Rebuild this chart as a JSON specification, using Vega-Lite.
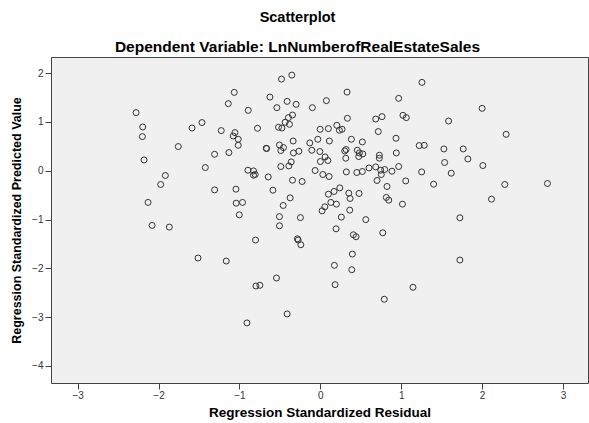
{
  "$schema": "https://vega.github.io/schema/vega-lite/v6.json",
  "width": 537,
  "height": 326,
  "autosize": "none",
  "padding": {"left": 51, "top": 57, "right": 1, "bottom": 40},
  "background": "white",
  "config": {
    "view": {"stroke": "#444444", "strokeWidth": 1, "fill": "#F0F0F0"},
    "font": "Liberation Sans"
  },
  "title": {
    "text": "Scatterplot",
    "subtitle": "Dependent Variable: LnNumberofRealEstateSales",
    "font": "Liberation Sans",
    "subtitleFont": "Liberation Sans",
    "fontSize": 14.5,
    "fontWeight": "bold",
    "subtitleFontSize": 15.5,
    "subtitleFontWeight": "bold",
    "color": "#000000",
    "subtitleColor": "#000000",
    "offset": 1,
    "subtitlePadding": 14,
    "dx": -22
  },
  "data": {
    "values": [
      {"residual": -1.064, "predicted": 1.605},
      {"residual": -1.138, "predicted": 1.374},
      {"residual": -2.278, "predicted": 1.190},
      {"residual": -2.196, "predicted": 0.896},
      {"residual": -2.200, "predicted": 0.699},
      {"residual": -1.586, "predicted": 0.875},
      {"residual": -1.463, "predicted": 0.986},
      {"residual": -1.225, "predicted": 0.822},
      {"residual": -1.056, "predicted": 0.781},
      {"residual": -1.077, "predicted": 0.712},
      {"residual": -1.015, "predicted": 0.644},
      {"residual": -1.756, "predicted": 0.495},
      {"residual": -2.179, "predicted": 0.221},
      {"residual": -1.307, "predicted": 0.337},
      {"residual": -1.130, "predicted": 0.372},
      {"residual": -1.015, "predicted": 0.521},
      {"residual": -1.422, "predicted": 0.065},
      {"residual": -1.916, "predicted": -0.098},
      {"residual": -1.974, "predicted": -0.282},
      {"residual": -1.307, "predicted": -0.393},
      {"residual": -1.043, "predicted": -0.378},
      {"residual": -2.130, "predicted": -0.650},
      {"residual": -1.040, "predicted": -0.665},
      {"residual": -1.002, "predicted": -0.904},
      {"residual": -2.080, "predicted": -1.121},
      {"residual": -1.867, "predicted": -1.155},
      {"residual": -1.512, "predicted": -1.789},
      {"residual": -1.163, "predicted": -1.851},
      {"residual": -0.480, "predicted": 1.877},
      {"residual": -0.352, "predicted": 1.959},
      {"residual": -0.623, "predicted": 1.509},
      {"residual": -0.410, "predicted": 1.421},
      {"residual": -0.299, "predicted": 1.360},
      {"residual": -0.537, "predicted": 1.292},
      {"residual": -0.098, "predicted": 1.292},
      {"residual": 0.075, "predicted": 1.436},
      {"residual": 0.331, "predicted": 1.611},
      {"residual": 0.969, "predicted": 1.483},
      {"residual": -0.891, "predicted": 1.237},
      {"residual": -0.344, "predicted": 1.141},
      {"residual": -0.394, "predicted": 1.088},
      {"residual": -0.435, "predicted": 0.992},
      {"residual": -0.381, "predicted": 0.951},
      {"residual": -0.517, "predicted": 0.890},
      {"residual": -0.475, "predicted": 0.875},
      {"residual": -0.777, "predicted": 0.869},
      {"residual": -0.002, "predicted": 0.849},
      {"residual": 0.100, "predicted": 0.863},
      {"residual": 0.204, "predicted": 0.930},
      {"residual": 0.236, "predicted": 0.828},
      {"residual": 0.269, "predicted": 0.849},
      {"residual": 0.335, "predicted": 1.074},
      {"residual": 0.685, "predicted": 1.059},
      {"residual": 0.763, "predicted": 1.108},
      {"residual": 1.022, "predicted": 1.135},
      {"residual": 1.063, "predicted": 1.088},
      {"residual": 0.717, "predicted": 0.802},
      {"residual": -0.336, "predicted": 0.609},
      {"residual": -0.130, "predicted": 0.569},
      {"residual": -0.031, "predicted": 0.644},
      {"residual": 0.112, "predicted": 0.609},
      {"residual": 0.384, "predicted": 0.644},
      {"residual": 0.520, "predicted": 0.589},
      {"residual": 0.936, "predicted": 0.665},
      {"residual": -0.669, "predicted": 0.460},
      {"residual": -0.663, "predicted": 0.454},
      {"residual": -0.505, "predicted": 0.528},
      {"residual": -0.456, "predicted": 0.474},
      {"residual": -0.488, "predicted": 0.413},
      {"residual": -0.332, "predicted": 0.364},
      {"residual": -0.265, "predicted": 0.399},
      {"residual": -0.105, "predicted": 0.419},
      {"residual": -0.006, "predicted": 0.393},
      {"residual": 0.059, "predicted": 0.282},
      {"residual": 0.001, "predicted": 0.188},
      {"residual": 0.093, "predicted": 0.209},
      {"residual": 0.302, "predicted": 0.405},
      {"residual": 0.319, "predicted": 0.434},
      {"residual": 0.315, "predicted": 0.256},
      {"residual": 0.458, "predicted": 0.419},
      {"residual": 0.483, "predicted": 0.364},
      {"residual": 0.525, "predicted": 0.344},
      {"residual": 0.475, "predicted": 0.290},
      {"residual": 0.730, "predicted": 0.317},
      {"residual": 0.730, "predicted": 0.256},
      {"residual": 0.940, "predicted": 0.364},
      {"residual": -0.895, "predicted": 0.010},
      {"residual": -0.826, "predicted": -0.004},
      {"residual": -0.826, "predicted": -0.092},
      {"residual": -0.805, "predicted": -0.078},
      {"residual": -0.644, "predicted": -0.127},
      {"residual": -0.488, "predicted": 0.086},
      {"residual": -0.389, "predicted": 0.098},
      {"residual": -0.360, "predicted": 0.180},
      {"residual": -0.064, "predicted": 0.004},
      {"residual": 0.031, "predicted": -0.078},
      {"residual": 0.109, "predicted": -0.119},
      {"residual": 0.322, "predicted": -0.025},
      {"residual": 0.451, "predicted": -0.037},
      {"residual": 0.520, "predicted": -0.016},
      {"residual": 0.602, "predicted": 0.057},
      {"residual": 0.685, "predicted": 0.078},
      {"residual": 0.747, "predicted": 0.010},
      {"residual": 0.796, "predicted": 0.025},
      {"residual": 0.754, "predicted": -0.078},
      {"residual": 0.886, "predicted": -0.010},
      {"residual": 0.969, "predicted": 0.086},
      {"residual": 0.701, "predicted": -0.200},
      {"residual": 1.056, "predicted": -0.209},
      {"residual": -0.344, "predicted": -0.194},
      {"residual": -0.225, "predicted": -0.221},
      {"residual": -0.586, "predicted": -0.399},
      {"residual": 0.825, "predicted": -0.323},
      {"residual": 0.241, "predicted": -0.352},
      {"residual": 0.170, "predicted": -0.425},
      {"residual": 0.100, "predicted": -0.481},
      {"residual": 0.352, "predicted": -0.460},
      {"residual": 0.368, "predicted": -0.569},
      {"residual": 0.479, "predicted": -0.466},
      {"residual": 0.816, "predicted": -0.548},
      {"residual": 0.846, "predicted": -0.603},
      {"residual": 1.016, "predicted": -0.685},
      {"residual": -0.962, "predicted": -0.650},
      {"residual": -0.373, "predicted": -0.556},
      {"residual": -0.459, "predicted": -0.712},
      {"residual": 0.130, "predicted": -0.650},
      {"residual": 0.199, "predicted": -0.685},
      {"residual": 0.056, "predicted": -0.740},
      {"residual": 0.022, "predicted": -0.822},
      {"residual": 0.364, "predicted": -0.808},
      {"residual": -0.505, "predicted": -0.941},
      {"residual": -0.246, "predicted": -0.961},
      {"residual": 0.260, "predicted": -0.951},
      {"residual": 0.562, "predicted": -1.002},
      {"residual": -0.505, "predicted": -1.129},
      {"residual": 0.195, "predicted": -1.190},
      {"residual": -0.801, "predicted": -1.421},
      {"residual": -0.283, "predicted": -1.395},
      {"residual": -0.274, "predicted": -1.421},
      {"residual": -0.241, "predicted": -1.517},
      {"residual": 0.409, "predicted": -1.313},
      {"residual": 0.442, "predicted": -1.354},
      {"residual": 0.772, "predicted": -1.272},
      {"residual": 0.396, "predicted": -1.708},
      {"residual": 0.174, "predicted": -1.939},
      {"residual": 0.389, "predicted": -2.029},
      {"residual": -0.542, "predicted": -2.198},
      {"residual": -0.796, "predicted": -2.362},
      {"residual": -0.747, "predicted": -2.348},
      {"residual": 0.183, "predicted": -2.335},
      {"residual": 0.791, "predicted": -2.634},
      {"residual": -0.410, "predicted": -2.935},
      {"residual": -0.907, "predicted": -3.119},
      {"residual": 1.257, "predicted": 1.810},
      {"residual": 2.001, "predicted": 1.278},
      {"residual": 1.586, "predicted": 1.018},
      {"residual": 2.298, "predicted": 0.746},
      {"residual": 1.223, "predicted": 0.515},
      {"residual": 1.285, "predicted": 0.521},
      {"residual": 1.528, "predicted": 0.446},
      {"residual": 1.767, "predicted": 0.446},
      {"residual": 1.825, "predicted": 0.241},
      {"residual": 1.537, "predicted": 0.168},
      {"residual": 2.010, "predicted": 0.106},
      {"residual": 1.253, "predicted": -0.025},
      {"residual": 1.619, "predicted": -0.051},
      {"residual": 1.401, "predicted": -0.276},
      {"residual": 2.281, "predicted": -0.282},
      {"residual": 2.809, "predicted": -0.262},
      {"residual": 2.117, "predicted": -0.583},
      {"residual": 1.726, "predicted": -0.965},
      {"residual": 1.726, "predicted": -1.830},
      {"residual": 1.146, "predicted": -2.389}
    ]
  },
  "mark": {"type": "point", "shape": "circle", "filled": false, "stroke": "#333333", "strokeWidth": 1, "size": 36, "opacity": 1},
  "encoding": {
    "x": {
      "field": "residual",
      "type": "quantitative",
      "scale": {"domain": [-3.33, 3.31], "nice": false, "zero": false},
      "axis": {
        "title": "Regression Standardized Residual",
        "values": [-3, -2, -1, 0, 1, 2, 3],
        "domain": false,
        "grid": false,
        "tickColor": "#444444",
        "tickSize": 6,
        "labelFont": "Liberation Sans",
        "labelFontSize": 10,
        "labelColor": "#333333",
        "labelPadding": 1,
        "titleFont": "Liberation Sans",
        "titleFontSize": 13.5,
        "titleFontWeight": "bold",
        "titleColor": "#000000",
        "titlePadding": 5
      }
    },
    "y": {
      "field": "predicted",
      "type": "quantitative",
      "scale": {"domain": [-4.35, 2.33], "nice": false, "zero": false},
      "axis": {
        "title": "Regression Standardized Predicted Value",
        "values": [-4, -3, -2, -1, 0, 1, 2],
        "domain": false,
        "grid": false,
        "tickColor": "#444444",
        "tickSize": 6,
        "labelFont": "Liberation Sans",
        "labelFontSize": 10,
        "labelColor": "#333333",
        "labelPadding": 2,
        "titleFont": "Liberation Sans",
        "titleFontSize": 12.5,
        "titleFontWeight": "bold",
        "titleColor": "#000000",
        "titlePadding": 8
      }
    }
  }
}
